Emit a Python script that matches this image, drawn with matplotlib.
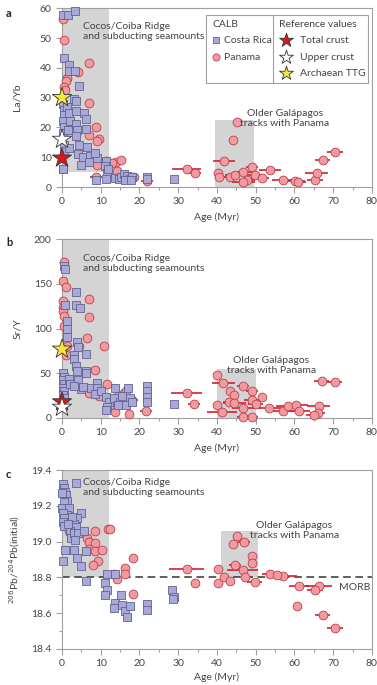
import numpy as np
import matplotlib
matplotlib.use("Agg")
import matplotlib.pyplot as plt
from matplotlib.patches import Rectangle
from matplotlib.ticker import MultipleLocator, FormatStrFormatter

plt.rcParams['font.family'] = ['Lato', 'DejaVu Sans']

# ---------------- data ----------------
# panel a: La/Yb
cr_age_a = [0.3, 1.5, 3.3, 0.5, 1.9, 1.9, 3.3, 4.3, 0.2, 0.4, 0.6, 0.3, 0.5, 0.2, 0.4, 0.6, 0.3,
            1.4, 1.8, 2.0, 1.6, 1.9, 3.0, 3.6, 3.7, 3.5, 3.8, 3.6, 4.0, 5.6, 6.2, 6.2, 4.3, 6.5,
            4.9, 5.5, 7.3, 9.1, 7.0, 8.6, 11.3, 11.0, 11.5, 11.3, 8.8, 11.8, 13.8, 14.6, 15.3,
            16.1, 16.8, 17.5, 18.0, 16.3, 17.8, 22.0, 22.0, 29.0, 0.3]
cr_la_yb = [57.6, 57.6, 59.0, 43.4, 40.8, 39.0, 39.0, 34.0, 28.0, 26.0, 24.0, 22.0, 20.0, 18.0, 14.0, 12.0, 6.0,
            27.0, 25.0, 22.0, 19.0, 13.0, 29.6, 29.0, 25.5, 21.0, 19.0, 17.0, 11.0, 24.8, 22.8, 19.6, 14.0, 13.3,
            7.3, 10.0, 10.5, 9.7, 8.4, 11.5, 8.8, 7.1, 4.7, 2.7, 2.2, 6.0, 3.0, 2.8, 3.5,
            4.2, 3.6, 2.8, 3.3, 2.5, 2.2, 3.5, 2.8, 2.6, 6.0]

pa_age_a = [0.3, 0.5, 6.9, 4.1, 1.2, 1.0, 0.6, 0.8, 6.9, 8.8, 9.5, 9.0, 6.9, 1.1, 11.3, 10.2, 14.0, 15.2,
            9.0, 8.8, 14.3, 22.0, 16.5, 18.5, 12.8,
            45.1, 44.2, 41.8, 32.2, 34.3, 40.2, 40.4, 43.4, 44.6, 46.8, 49.0, 49.8, 47.7, 46.8, 51.5,
            53.7, 57.1, 60.1, 61.0, 65.3, 65.7, 67.3, 70.5]
pa_la_yb = [56.4, 49.4, 41.6, 38.5, 36.5, 35.5, 33.5, 32.5, 28.3, 20.0, 16.0, 15.5, 17.6, 20.0, 8.6, 8.0, 8.5, 9.2,
            7.5, 3.4, 5.4, 2.0, 3.0, 3.2, 8.0,
            21.9, 15.7, 8.6, 5.9, 4.8, 4.6, 3.5, 3.5, 4.1, 5.2, 6.7, 4.1, 2.4, 1.8, 2.9,
            5.8, 2.4, 2.1, 1.8, 2.4, 4.6, 9.1, 11.9]
pa_err_a = [0, 0, 0, 0, 0, 0, 0, 0, 0, 0, 0, 0, 0, 0, 0, 0, 0, 0,
            0, 1.5, 0, 1.5, 1.0, 0, 0,
            0, 0, 2.8, 3.8, 1.5, 0, 0, 2.0, 2.5, 2.5, 1.5, 2.0, 2.0, 3.0, 2.0,
            2.8, 3.0, 2.5, 2.0, 2.0, 3.0, 2.0, 2.0]

# panel b: Sr/Y
cr_age_b = [0.6, 0.7, 3.6, 0.7, 3.6, 4.6, 1.3, 1.3, 1.3, 3.8, 4.2, 3.0, 3.2, 6.2, 6.2, 6.2, 3.6, 3.9,
            0.2, 0.4, 0.3, 0.5, 0.2, 0.4, 0.3, 0.6, 1.7, 2.0, 4.0, 4.8, 3.0, 5.5, 7.5, 9.1, 9.1, 8.5,
            10.0, 11.3, 12.0, 11.5, 13.8, 13.5, 15.0, 15.5, 17.0, 17.5, 16.5, 18.0, 22.0, 22.0, 22.0,
            22.0, 29.0, 11.3, 14.5]
cr_sr_y = [170, 166.5, 141, 126, 126, 123.5, 108.7, 100, 90.8, 85.3, 79.7, 70.5, 66, 72, 52.8, 50, 58, 53,
           50, 46, 42, 38, 34, 30, 26, 22, 44, 38, 42, 32, 36, 35, 33, 39.3, 34, 27,
           30, 23, 18, 12, 34, 22, 18, 25, 34, 22, 15, 18, 35.4, 30, 23,
           17.8, 16, 9.4, 14]

pa_age_b = [0.5, 0.2, 1.0, 6.9, 6.9, 0.3, 0.2, 0.3, 0.4, 0.5, 6.5, 10.8, 4.3, 1.0, 1.4, 8.4, 11.7, 13.5,
            16.0, 14.5, 17.2, 13.8, 21.7, 18.0, 9.5, 7.0, 12.5, 16.5,
            32.2, 34.0, 40.1, 41.6, 46.8, 49.0, 43.4, 44.3, 51.5, 40.1, 41.3, 43.0, 44.5, 46.8, 49.0,
            50.0, 46.8, 49.0, 53.5, 57.0, 58.3, 60.5, 61.1, 66.3, 66.0, 65.0, 67.0, 70.4]
pa_sr_y = [175, 153, 146, 133, 113, 131, 124, 120, 114, 103, 89, 80, 80, 70, 80, 54, 37.5, 22,
           28, 25, 4, 7, 8, 20, 25, 28, 14, 30,
           27.5, 15.6, 48, 38.7, 36, 30, 30, 26, 23, 14.5, 6.3, 17.5, 16.5, 11.5, 19.6,
           16, 0.8, 0.8, 11.5, 7.8, 13, 14, 8, 13, 5.6, 3, 41.7, 40.6]
pa_err_b = [0, 0, 0, 0, 0, 0, 0, 0, 0, 0, 0, 0, 0, 0, 0, 0, 0, 0,
            0, 0, 0, 0, 1.5, 1.5, 0, 0, 0, 0,
            4.0, 1.5, 0, 3.0, 1.5, 1.5, 0, 0, 0, 0, 3.8, 1.5, 3.0, 3.0, 2.0,
            2.0, 1.5, 1.5, 3.0, 3.0, 3.0, 3.0, 3.0, 3.0, 2.0, 2.0, 2.0, 2.0]

# panel c: 206Pb/204Pb (initial)
cr_age_c = [0.3, 0.5, 0.7, 3.6, 1.0, 1.3, 0.1, 0.4, 0.1, 1.7, 1.3, 0.2, 0.4, 0.2, 0.6, 4.8, 3.9, 3.0,
            3.6, 2.0, 2.2, 3.0, 4.0, 3.3, 5.6, 0.7, 3.0, 3.9, 6.2, 4.9, 0.2, 6.2, 11.5, 11.0, 11.7,
            11.2, 13.8, 13.5, 15.2, 15.6, 16.3, 16.7, 17.6, 22.0, 22.0, 28.3, 28.8, 28.6, 13.8, 2.5, 1.5]
cr_pb = [19.325, 19.30, 19.28, 19.33, 19.26, 19.23, 19.27, 19.22, 19.19, 19.19, 19.15, 19.16, 19.13, 19.11,
         19.09, 19.16, 19.13, 19.10, 19.08, 19.06, 19.02, 19.05, 19.05, 19.01, 19.06, 18.955, 18.955, 18.91,
         18.95, 18.865, 18.89, 18.78, 18.82, 18.77, 18.73, 18.70, 18.655, 18.63, 18.70, 18.645, 18.61, 18.58,
         18.64, 18.65, 18.62, 18.73, 18.69, 18.68, 18.82, 19.14, 19.10]

pa_age_c = [6.5, 6.9, 8.4, 8.4, 6.9, 8.4, 10.3, 9.2, 8.1, 11.9, 12.3, 13.3, 14.2, 16.2, 16.2, 18.3, 18.3, 1.8,
            32.2, 34.3, 40.3, 40.2, 41.8, 43.4, 45.2, 47.0, 44.2, 44.7, 46.7, 47.3, 49.0, 49.0, 49.7,
            53.7, 57.1, 55.5, 61.2, 60.6, 66.3, 65.3, 67.3, 70.5]
pa_pb = [19.02, 19.0, 19.06, 18.99, 18.96, 18.95, 18.955, 18.89, 18.87, 19.07, 19.07, 18.82, 18.79, 18.855,
         18.82, 18.91, 18.71, 19.06,
         18.845, 18.77, 18.85, 18.77, 18.80, 18.78, 19.03, 19.0, 18.985, 18.87, 18.84, 18.805, 18.92, 18.88,
         18.775, 18.82, 18.81, 18.815, 18.75, 18.64, 18.75, 18.73, 18.59, 18.52]
pa_err_c = [0, 0, 0, 0, 0, 0, 0, 0, 0, 0, 0, 0, 0, 0, 0, 0, 0, 0,
            4.5, 1.0, 0, 0, 0, 0, 0, 1.5, 0, 1.5, 4.0, 0, 0, 0, 2.0,
            2.0, 3.5, 2.0, 2.5, 1.0, 3.5, 2.0, 2.0, 2.0]

# reference values at age 0: total crust, upper crust, Archaean TTG
ref_la_yb = [9.7, 16.0, 30.0]
ref_sr_y = [18.0, 12.0, 77.0]
ref_names = ["Total crust", "Upper crust", "Archaean TTG"]
ref_colors = ["#d7191c", "white", "#f5e83a"]

morb_pb = 18.8

# ---------------- styling ----------------
CR_FACE, CR_EDGE = "#a9a9d9", "#62628f"
PA_FACE, PA_EDGE = "#f39aa1", "#b5414d"
ERR = "#d6202c"
SHADE = "#d4d4d4"
TXT = "#444444"
SPINE = "#a0a0a0"
FS = 7.5

fig = plt.figure(figsize=(3.77, 6.85), dpi=100)
ax_a = fig.add_axes([0.1645, 0.727, 0.822, 0.261])
ax_b = fig.add_axes([0.1645, 0.3898, 0.822, 0.261])
ax_c = fig.add_axes([0.1645, 0.0526, 0.822, 0.261])


def style_axis(ax, ylim, ymajor, yminor, ylabel, xlab_y):
    ax.set_xlim(0, 80)
    ax.set_ylim(*ylim)
    ax.xaxis.set_major_locator(MultipleLocator(10))
    ax.xaxis.set_minor_locator(MultipleLocator(5))
    ax.yaxis.set_major_locator(MultipleLocator(ymajor))
    if yminor:
        ax.yaxis.set_minor_locator(MultipleLocator(yminor))
    for s in ax.spines.values():
        s.set_color(SPINE)
        s.set_linewidth(0.8)
    ax.tick_params(which='both', color=SPINE, labelcolor=TXT, labelsize=FS, width=0.8)
    ax.tick_params(which='major', length=4)
    ax.tick_params(which='minor', length=2.5)
    ax.set_xlabel("Age (Myr)", fontsize=FS, color=TXT)
    ax.set_ylabel(ylabel, fontsize=FS, color=TXT)
    ax.xaxis.set_label_coords(0.5, xlab_y)
    ax.yaxis.set_label_coords(-0.13, 0.5)


def draw_points(ax, cr_x, cr_y, pa_x, pa_y, pa_err):
    ax.errorbar(pa_x, pa_y, xerr=pa_err, fmt='none', ecolor=ERR, elinewidth=1.2, capsize=0, zorder=2)
    ax.scatter(pa_x, pa_y, s=40, marker='o', facecolor=PA_FACE, edgecolor=PA_EDGE, linewidth=0.6,
               zorder=3, clip_on=False)
    ax.scatter(cr_x, cr_y, s=36, marker='s', facecolor=CR_FACE, edgecolor=CR_EDGE, linewidth=0.6,
               zorder=4, clip_on=False)


def shade(ax, x0, x1, y0, y1):
    ax.add_patch(Rectangle((x0, y0), x1 - x0, y1 - y0, facecolor=SHADE, edgecolor='none', zorder=0))


# ---- panel a ----
style_axis(ax_a, (0, 60), 10, None, "La/Yb", -0.14)
shade(ax_a, 0, 12, 5, 60)
shade(ax_a, 39.5, 49.5, 0, 22.5)
draw_points(ax_a, cr_age_a, cr_la_yb, pa_age_a, pa_la_yb, pa_err_a)
ax_a.scatter([0, 0, 0], ref_la_yb, marker='*', s=210, c=ref_colors, edgecolor='#333333',
             linewidth=0.6, zorder=6, clip_on=False)
ax_a.text(5.4, 55.5, "Cocos/Coiba Ridge\nand subducting seamounts", fontsize=FS, color=TXT,
          va='top', ha='left', linespacing=1.15, zorder=5)
ax_a.text(57.5, 26.3, "Older Galápagos\ntracks with Panama", fontsize=FS, color=TXT,
          va='top', ha='center', linespacing=1.15, zorder=5)

# legend box (manual, in axes coordinates)
tr = ax_a.transAxes
ax_a.add_patch(Rectangle((0.465, 0.581), 0.522, 0.38, transform=tr, facecolor='white',
                         edgecolor=SPINE, linewidth=0.8, zorder=7))
ax_a.plot([0.681, 0.681], [0.581, 0.961], transform=tr, color=SPINE, linewidth=0.8, zorder=8)
ax_a.text(0.484, 0.911, "CALB", transform=tr, fontsize=FS, color=TXT, va='center', zorder=9)
ax_a.scatter([0.497], [0.821], transform=tr, marker='s', s=22, facecolor=CR_FACE,
             edgecolor=CR_EDGE, linewidth=0.6, zorder=9, clip_on=False)
ax_a.text(0.522, 0.821, "Costa Rica", transform=tr, fontsize=FS, color=TXT, va='center', zorder=9)
ax_a.scatter([0.497], [0.726], transform=tr, marker='o', s=26, facecolor=PA_FACE,
             edgecolor=PA_EDGE, linewidth=0.6, zorder=9, clip_on=False)
ax_a.text(0.522, 0.726, "Panama", transform=tr, fontsize=FS, color=TXT, va='center', zorder=9)
ax_a.text(0.700, 0.911, "Reference values", transform=tr, fontsize=FS, color=TXT, va='center', zorder=9)
for yy, name, col in zip([0.821, 0.726, 0.637], ref_names, ref_colors):
    ax_a.scatter([0.724], [yy], transform=tr, marker='*', s=110, facecolor=col,
                 edgecolor='#333333', linewidth=0.6, zorder=9, clip_on=False)
    ax_a.text(0.768, yy, name, transform=tr, fontsize=FS, color=TXT, va='center', zorder=9)

# ---- panel b ----
style_axis(ax_b, (0, 200), 50, 25, "Sr/Y", -0.14)
shade(ax_b, 0, 12, 0, 200)
shade(ax_b, 40, 50, 0, 55)
draw_points(ax_b, cr_age_b, cr_sr_y, pa_age_b, pa_sr_y, pa_err_b)
ax_b.scatter([0, 0, 0], ref_sr_y, marker='*', s=210, c=ref_colors, edgecolor='#333333',
             linewidth=0.6, zorder=6, clip_on=False)
ax_b.text(5.4, 183, "Cocos/Coiba Ridge\nand subducting seamounts", fontsize=FS, color=TXT,
          va='top', ha='left', linespacing=1.15, zorder=5)
ax_b.text(54, 69, "Older Galápagos\ntracks with Panama", fontsize=FS, color=TXT,
          va='top', ha='center', linespacing=1.15, zorder=5)

# ---- panel c ----
style_axis(ax_c, (18.4, 19.4), 0.2, 0.1, "$^{206}$Pb/$^{204}$Pb(initial)", -0.13)
ax_c.yaxis.set_major_formatter(FormatStrFormatter('%.1f'))
shade(ax_c, 0, 12, morb_pb, 19.4)
shade(ax_c, 41, 50.5, morb_pb, 19.06)
ax_c.axhline(morb_pb, color='#333333', linewidth=1.1, dashes=(5, 3), zorder=1)
draw_points(ax_c, cr_age_c, cr_pb, pa_age_c, pa_pb, pa_err_c)
ax_c.text(5.4, 19.355, "Cocos/Coiba Ridge\nand subducting seamounts", fontsize=FS, color=TXT,
          va='top', ha='left', linespacing=1.15, zorder=5)
ax_c.text(60, 19.115, "Older Galápagos\ntracks with Panama", fontsize=FS, color=TXT,
          va='top', ha='center', linespacing=1.15, zorder=5)
ax_c.text(71.5, 18.745, "MORB", fontsize=FS, color=TXT, va='center', ha='left', zorder=5)

# panel letters
for yy, letter in zip([0.988, 0.654, 0.316], ["a", "b", "c"]):
    fig.text(0.016, yy, letter, fontsize=8, fontweight='bold', va='top', ha='left', color='#222222')

fig.savefig("out.png", dpi=100)
